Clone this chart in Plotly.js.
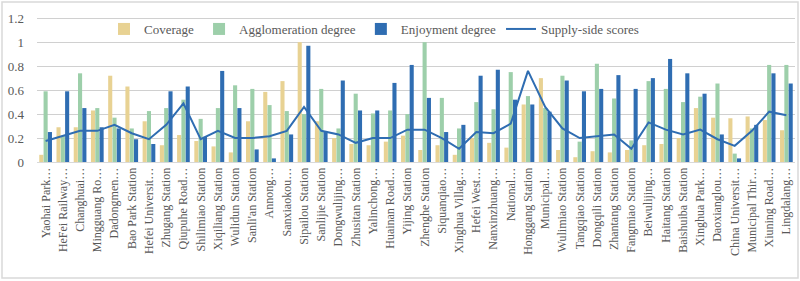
<!DOCTYPE html>
<html>
<head>
<meta charset="utf-8">
<script src="https://cdn.plot.ly/plotly-3.0.1.min.js"></script>
<style>html,body{margin:0;padding:0;background:#fff;}#chart{width:800px;height:281px;}</style>
</head>
<body>
<div id="chart"></div>
<script>
const stations = ["Yaohai Park…","HeFei Railway…","Changhuai…","Mingguang Ro…","Dadongmen…","Bao Park Station","Hefei Universit…","Zhugang Station","Qiupuhe Road…","Shilimiao Station","Xiqiliang Station","Wulidun Station","Sanli'an Station","Annong…","Sanxiaokou…","Sipailou Station","Sanlijie Station","Dongwulijing…","Zhusitan Station","Yalinchong…","Huainan Road…","Yijing Station","Zhenghe Station","Siquanqiao…","Xinghua Villag…","Hefei West…","Nanxinzhuang…","National…","Honggang Station","Municipal…","Wulimiao Station","Tangqiao Station","Dongqili Station","Zhantang Station","Fangmiao Station","Beiwulijing…","Haitang Station","Baishuiba Station","Xinghua Park…","Daoxianglou…","China Universit…","Municipal Thir…","Xiuning Road…","Lingdalang…"];
const coverage = [0.06,0.29,0.29,0.43,0.72,0.63,0.34,0.14,0.225,0.175,0.13,0.08,0.34,0.585,0.675,1.0,0.34,0.2,0.15,0.14,0.17,0.22,0.1,0.14,0.06,0.2,0.16,0.12,0.48,0.7,0.1,0.04,0.09,0.08,0.1,0.14,0.15,0.2,0.45,0.37,0.365,0.38,0.35,0.265];
const agglomeration = [0.59,0.22,0.74,0.45,0.37,0.28,0.425,0.45,0.52,0.36,0.45,0.64,0.61,0.475,0.425,0.4,0.61,0.28,0.57,0.405,0.43,0.4,1.0,0.535,0.28,0.5,0.44,0.75,0.55,0.45,0.72,0.17,0.82,0.53,0.18,0.675,0.61,0.5,0.545,0.655,0.07,0.28,0.81,0.81];
const enjoyment = [0.25,0.59,0.45,0.29,0.28,0.19,0.15,0.59,0.63,0.21,0.76,0.45,0.105,0.03,0.23,0.97,0.25,0.68,0.43,0.43,0.66,0.81,0.535,0.25,0.31,0.72,0.77,0.52,0.48,0.42,0.68,0.59,0.61,0.725,0.61,0.7,0.86,0.74,0.57,0.23,0.03,0.31,0.74,0.655];
const supply = [0.175,0.22,0.26,0.26,0.31,0.24,0.19,0.31,0.49,0.19,0.26,0.2,0.2,0.215,0.26,0.46,0.26,0.23,0.16,0.2,0.2,0.27,0.27,0.2,0.11,0.25,0.24,0.32,0.76,0.46,0.28,0.2,0.215,0.23,0.11,0.33,0.27,0.23,0.27,0.19,0.135,0.26,0.42,0.39];

const font = "'Liberation Serif','Times New Roman',serif";
const data = [
  {type:'bar', name:'Coverage', x:stations, y:coverage, marker:{color:'#E8D293'}},
  {type:'bar', name:'Agglomeration degree', x:stations, y:agglomeration, marker:{color:'#9DCFAA'}},
  {type:'bar', name:'Enjoyment degree', x:stations, y:enjoyment, marker:{color:'#2F6DB2'}},
  {type:'scatter', mode:'lines', name:'Supply-side scores', x:stations, y:supply, line:{color:'#2F6DB2', width:2}}
];
const W = 758, H = 145;
const layout = {
  width:800, height:281,
  margin:{l:37, r:5, t:17, b:119},
  paper_bgcolor:'#fff', plot_bgcolor:'#fff',
  font:{family:font, size:12, color:'#595959'},
  barmode:'group', bargap:0.25, bargroupgap:0.05,
  showlegend:true,
  legend:{orientation:'h', x:(104-37)/W, xanchor:'left', y:(162-29)/H, yanchor:'middle',
          bgcolor:'rgba(255,255,255,0)', font:{family:font, size:13, color:'#595959'},
          itemwidth:30, tracegroupgap:0},
  xaxis:{type:'category', tickangle:-90, tickfont:{family:font, size:12, color:'#595959'},
         showgrid:false, showline:true, linecolor:'#d9d9d9', linewidth:1, ticks:'', automargin:false},
  yaxis:{range:[0,1.21], autorange:false, tick0:0, dtick:0.2,
         showgrid:true, gridcolor:'#d0d0d0', gridwidth:1, zeroline:false, showline:false, ticks:'',
         ticklabelstandoff:12, tickfont:{family:font, size:13, color:'#595959'}, automargin:false},
  shapes:[{type:'rect', xref:'paper', yref:'paper', x0:-35/W, x1:1+3/W, y0:-(278-162)/H, y1:1+15/H,
           line:{color:'#d9d9d9', width:1.5}, fillcolor:'rgba(0,0,0,0)', layer:'below'}]
};
Plotly.newPlot('chart', data, layout, {displayModeBar:false, staticPlot:true});
</script>
</body>
</html>
